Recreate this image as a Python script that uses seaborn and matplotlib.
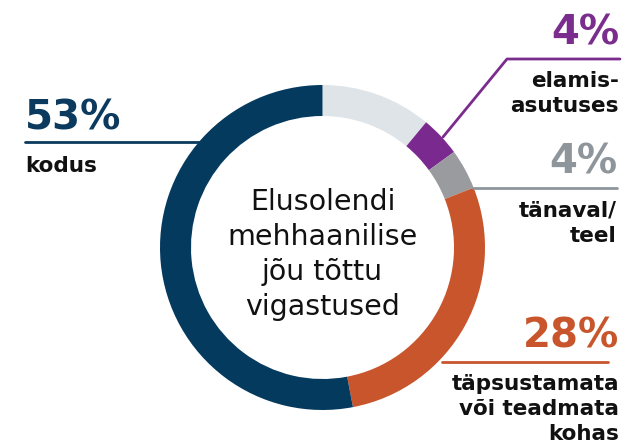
import matplotlib
matplotlib.use("Agg")
import matplotlib.pyplot as plt
import seaborn as sns

# ---- data (clockwise from 12 o'clock) ----
categories = ["muu", "elamisasutuses", "tänaval/teel",
              "täpsustamata või teadmata kohas", "kodus"]
values = [11, 4, 4, 28, 53]
seg_colors = ["#DFE4E8", "#7A2A8E", "#999B9E", "#C8552B", "#053A5F"]

pct_labels = {"kodus": "53%", "elamisasutuses": "4%",
              "tänaval/teel": "4%", "täpsustamata või teadmata kohas": "28%"}
text_labels = {"kodus": "kodus", "elamisasutuses": "elamis-\nasutuses",
               "tänaval/teel": "tänaval/\nteel",
               "täpsustamata või teadmata kohas": "täpsustamata\nvõi teadmata\nkohas"}
label_colors = {"kodus": "#0B3A5E", "elamisasutuses": "#7B2D8E",
                "tänaval/teel": "#8E969C", "täpsustamata või teadmata kohas": "#C8552B"}
center_title = "Elusolendi\nmehhaanilise\njõu tõttu\nvigastused"

sns.set_theme(style="white")
plt.rcParams['font.family'] = ['DejaVu Sans']

W, H = 630, 444
fig = plt.figure(figsize=(W / 100, H / 100), dpi=100)
ax = fig.add_axes([0, 0, 1, 1])
ax.set_xlim(0, W)
ax.set_ylim(0, H)
ax.set_aspect('equal')
ax.axis('off')

def Y(py):
    return H - py

cx, cy, R, ring = 322.5, Y(247.5), 162.5, 31
ax.pie(values, colors=seg_colors, startangle=90, counterclock=False,
       center=(cx, cy), radius=R,
       wedgeprops=dict(width=ring, edgecolor='none', linewidth=0))
ax.set_xlim(0, W)
ax.set_ylim(0, H)

# center title
for i, ln in enumerate(center_title.split("\n")):
    ax.text(cx, Y(210 + i * 35), ln, ha='center', va='baseline',
            fontsize=20.5, color='#111111')

pct_fs = 29
lab_fs = 15.5

def label_block(key, x, pct_base, lines_base, ha):
    ax.text(x, Y(pct_base), pct_labels[key], ha=ha, va='baseline',
            fontsize=pct_fs, fontweight='bold', color=label_colors[key])
    for i, ln in enumerate(text_labels[key].split("\n")):
        ax.text(x, Y(lines_base + i * 25), ln, ha=ha, va='baseline',
                fontsize=lab_fs, fontweight='bold', color='#111111')

# kodus (left)
label_block("kodus", 25, 130, 172, 'left')
ax.plot([25, 200], [Y(142), Y(142)], color=label_colors["kodus"], lw=2)

# elamisasutuses
label_block("elamisasutuses", 619, 45, 87, 'right')
ax.plot([443, 507, 620], [Y(137), Y(59), Y(59)],
        color=label_colors["elamisasutuses"], lw=2)

# tänaval/teel
label_block("tänaval/teel", 617, 173, 217, 'right')
ax.plot([473, 617], [Y(188), Y(188)], color=label_colors["tänaval/teel"], lw=2)

# täpsustamata
label_block("täpsustamata või teadmata kohas", 619, 347, 390, 'right')
ax.plot([442, 608], [Y(362), Y(362)],
        color=label_colors["täpsustamata või teadmata kohas"], lw=2)

fig.savefig("out.png", dpi=100, facecolor='white')
